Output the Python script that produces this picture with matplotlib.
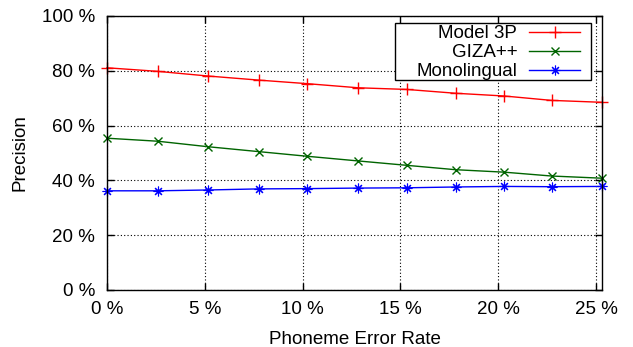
import matplotlib
matplotlib.use('Agg')
import matplotlib.pyplot as plt
from matplotlib.patches import Rectangle
from matplotlib.ticker import FuncFormatter

plt.rcParams['font.family'] = ['Liberation Sans', 'DejaVu Sans']

# datos (porcentajes)
per = [0, 2.59, 5.15, 7.76, 10.24, 12.84, 15.32, 17.82, 20.31, 22.72, 25.3]
model3p = [81.1, 79.8, 78.1, 76.6, 75.3, 73.8, 73.2, 71.8, 70.8, 69.2, 68.5]
giza = [55.4, 54.3, 52.3, 50.5, 48.8, 47.1, 45.5, 43.9, 43.0, 41.6, 40.8]
monolingual = [36.2, 36.2, 36.5, 36.9, 37.0, 37.2, 37.3, 37.6, 37.8, 37.7, 37.8]

x_ticks = [0, 5, 10, 15, 20, 25]
y_ticks = [0, 20, 40, 60, 80, 100]

FS = 13.5
W, H = 633, 347

fig = plt.figure(figsize=(6.33, 3.47), dpi=100)
ax = fig.add_axes([107 / W, 1 - 290 / H, (602 - 107) / W, (290 - 16) / H])

ax.plot(per, model3p, color='#ff0000', lw=1, marker='+', ms=8, mew=1, label='Model 3P', clip_on=False)
ax.plot(per, giza, color='#006400', lw=1, marker='x', ms=6, mew=1, label='GIZA++', clip_on=False)
ax.plot(per, monolingual, color='#0000ff', lw=1, marker=(8, 2, 0), ms=7, mew=0.8, label='Monolingual', clip_on=False)

ax.set_xlim(0, per[-1])
ax.set_ylim(0, 100)
ax.set_xticks(x_ticks)
ax.set_yticks(y_ticks)
pct = FuncFormatter(lambda v, p: f'{v:g} %')
ax.xaxis.set_major_formatter(pct)
ax.yaxis.set_major_formatter(pct)
ax.tick_params(direction='in', top=True, right=True, length=5, width=1, labelsize=FS)
ax.tick_params(axis='y', pad=8.5)
ax.tick_params(axis='x', pad=8)
ax.grid(True, color='black', linestyle=(0, (1, 2)), linewidth=0.8)
for s in ax.spines.values():
    s.set_linewidth(1)

ax.set_xlabel('Phoneme Error Rate', fontsize=FS, labelpad=9)
ax.set_ylabel('Precision', fontsize=FS, labelpad=10)

# caja de la leyenda al estilo gnuplot (mas ancha que el contenido)
caja = Rectangle((395 / W, 1 - 80 / H), 196 / W, 57 / H, transform=fig.transFigure,
                 facecolor='white', edgecolor='black', linewidth=1, zorder=4, clip_on=False)
ax.add_artist(caja)

leg = ax.legend(loc='upper right', bbox_to_anchor=(580 / W, 1 - 25 / H),
                bbox_transform=fig.transFigure, borderaxespad=0, markerfirst=False,
                fontsize=FS, frameon=False, borderpad=0, labelspacing=0.1,
                handlelength=2.7, handletextpad=0.65)
leg.set_zorder(5)

fig.savefig('out.png', dpi=100)
